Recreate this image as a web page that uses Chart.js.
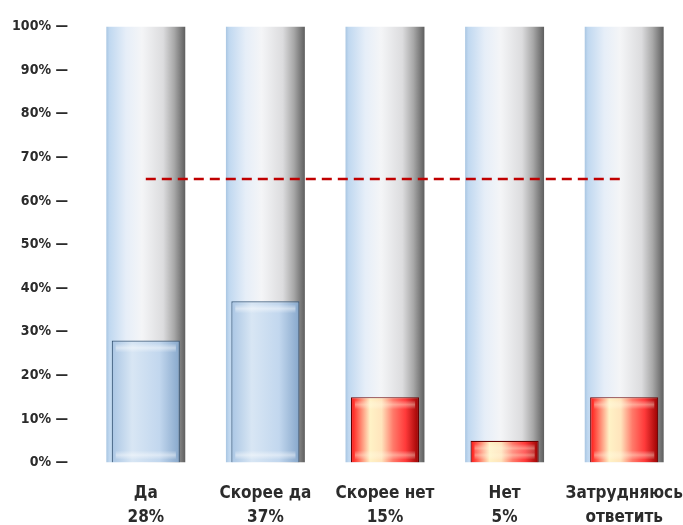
<!DOCTYPE html>
<html>
<head>
<meta charset="utf-8">
<script src="https://cdn.jsdelivr.net/npm/chart.js@4/dist/chart.umd.min.js"></script>
<style>
  html, body { margin: 0; padding: 0; background: #fff; overflow: hidden; }
  #wrap { width: 720px; height: 572px; }
</style>
</head>
<body>
<div id="wrap"><canvas id="c"></canvas></div>
<script>
// Survey answers and shares (%)
const categories = ["Да", "Скорее да", "Скорее нет", "Нет", "Затрудняюсь ответить"];
const categoryLines = [["Да"], ["Скорее да"], ["Скорее нет"], ["Нет"], ["Затрудняюсь", "ответить"]];
const shares = [28, 37, 15, 5, 15];
const fullScale = [100, 100, 100, 100, 100];
const referenceLevel = [65, 65, 65, 65, 65];
const positive = [true, true, false, false, false];
const yTicks = [0, 10, 20, 30, 40, 50, 60, 70, 80, 90, 100];

const FONT = '"Liberation Sans Narrow", "DejaVu Sans Condensed", "Roboto Condensed", Arial, sans-serif';

// Horizontal gradient over the span of a bar in a given category
function barGradient(ctx, widthFrac, stops) {
  const chart = ctx.chart;
  const xs = chart.scales.x;
  if (!chart.chartArea || !xs) return stops[0][1];
  const cx = xs.getPixelForValue(ctx.dataIndex);
  const step = xs.width / categories.length;
  const half = step * widthFrac / 2;
  const g = chart.ctx.createLinearGradient(cx - half, 0, cx + half, 0);
  stops.forEach(s => g.addColorStop(s[0], s[1]));
  return g;
}

const tubeStops = [[0, '#a9c6e2'], [0.04, '#c0d8f0'], [0.25, '#e6eef8'], [0.45, '#f4f5f7'], [0.72, '#dcdcde'], [0.86, '#a8a8a8'], [1, '#5e5e5e']];
const blueStops = [[0, '#aac6e4'], [0.3, '#d8e6f4'], [0.7, '#c2d7ee'], [1, '#86a7cb']];
const redStops = [[0, '#ff1010'], [0.28, '#fff2c6'], [0.45, '#ffe4bc'], [0.62, '#ff7a6a'], [0.8, '#ff3a3a'], [1, '#980000']];

// Soft highlight strips near the top and bottom of each filled bar
const glossPlugin = {
  id: 'gloss',
  afterDatasetDraw(chart, args) {
    if (args.index !== 1) return;
    const c = chart.ctx;
    args.meta.data.forEach((el, i) => {
      const p = el.getProps(['x', 'y', 'base', 'width'], true);
      const left = p.x - p.width / 2 + 4, w = p.width - 8;
      const h = p.base - p.y;
      if (h < 18) return;
      const col = positive[i] ? 'rgba(255,255,255,0.45)' : 'rgba(255,250,225,0.4)';
      [[p.y + 3, 9], [p.base - 12, 9]].forEach(([yy, hh]) => {
        const g = c.createLinearGradient(0, yy, 0, yy + hh);
        g.addColorStop(0, 'rgba(255,255,255,0)');
        g.addColorStop(0.5, col);
        g.addColorStop(1, 'rgba(255,255,255,0)');
        c.fillStyle = g;
        c.fillRect(left, yy, w, hh);
      });
    });
  }
};

new Chart(document.getElementById('c'), {
  type: 'bar',
  data: {
    labels: categories,
    datasets: [
      {
        type: 'line',
        data: referenceLevel,
        borderColor: '#c00000',
        borderWidth: 2.5,
        borderDash: [10, 6],
        pointRadius: 0,
        fill: false,
        order: 0
      },
      {
        data: shares,
        grouped: false,
        barPercentage: 0.57,
        categoryPercentage: 1,
        backgroundColor: ctx => barGradient(ctx, 0.57, positive[ctx.dataIndex] ? blueStops : redStops),
        borderColor: ctx => positive[ctx.dataIndex] ? '#3f5e7e' : '#6a0000',
        borderWidth: 1.2,
        order: 1
      },
      {
        data: fullScale,
        grouped: false,
        barPercentage: 0.66,
        categoryPercentage: 1,
        backgroundColor: ctx => barGradient(ctx, 0.66, tubeStops),
        borderWidth: 0,
        order: 2
      }
    ]
  },
  options: {
    responsive: true,
    maintainAspectRatio: false,
    animation: false,
    layout: { padding: { top: 12, right: 36, left: 12, bottom: 0 } },
    plugins: { legend: { display: false }, tooltip: { enabled: false } },
    scales: {
      x: {
        grid: { display: false, drawTicks: false },
        border: { display: false },
        ticks: {
          color: '#2b2b2b',
          font: { family: FONT, size: 17, weight: 'bold', lineHeight: 1.4 },
          padding: 19,
          maxRotation: 0,
          autoSkip: false,
          callback: (v, i) => categoryLines[i].concat([shares[i] + '%'])
        }
      },
      y: {
        min: 0,
        max: 100,
        afterBuildTicks: axis => { axis.ticks = yTicks.map(v => ({ value: v })); },
        afterFit: axis => { axis.width = 74; },
        grid: { display: false, drawTicks: false },
        border: { display: false },
        ticks: {
          color: '#2b2b2b',
          font: { family: FONT, size: 14, weight: 'bold' },
          padding: 18,
          callback: v => v + '% —'
        }
      }
    }
  },
  plugins: [glossPlugin]
});
</script>
</body>
</html>
